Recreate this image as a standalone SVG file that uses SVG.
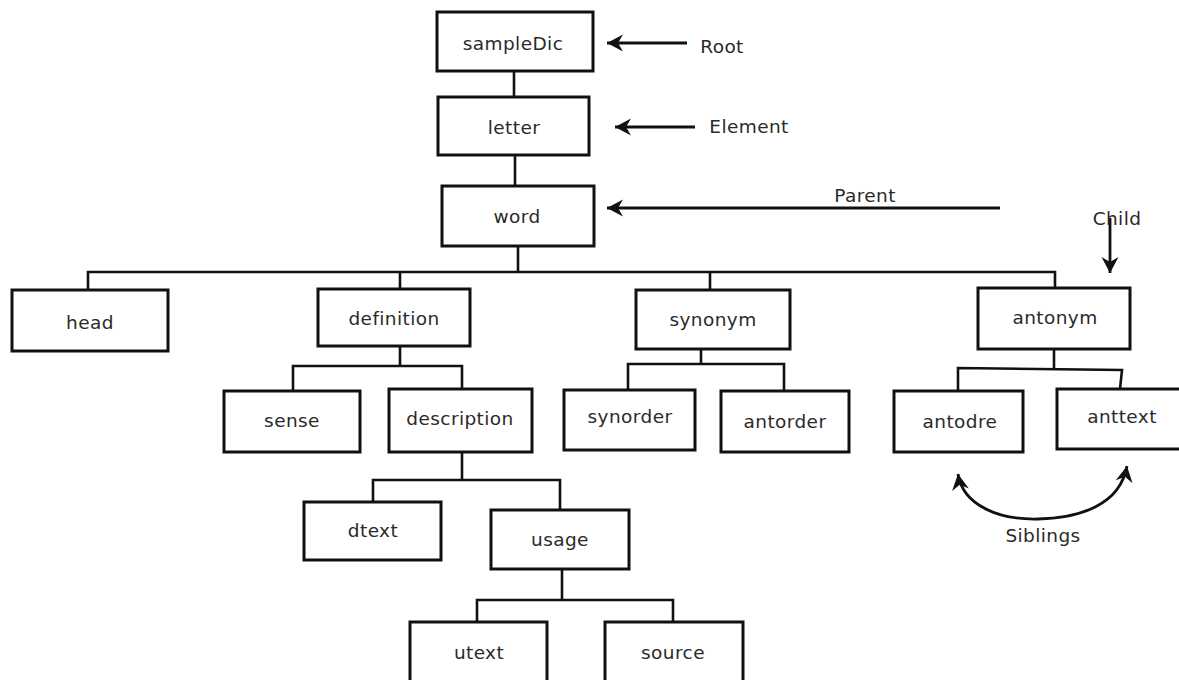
<svg xmlns="http://www.w3.org/2000/svg" width="1179" height="680" viewBox="0 0 1179 680">
<style>
.box{fill:#fff;stroke:#111;stroke-width:3}
.t{font-family:"DejaVu Sans",sans-serif;font-size:18.5px;letter-spacing:0.4px;fill:#2a2a2a;text-anchor:middle;dominant-baseline:central}
.c{fill:none;stroke:#111;stroke-width:2.6}
.a{fill:none;stroke:#111;stroke-width:2.8}
</style>
<defs>
<marker id="ah" viewBox="-18 -10 20 20" markerWidth="20" markerHeight="20" refX="0" refY="0" orient="auto-start-reverse" markerUnits="userSpaceOnUse">
<path d="M0 0 L-16 -8.5 L-11 0 L-16 8.5 Z" fill="#111"/>
</marker>
</defs>
<rect width="1179" height="680" fill="#fff"/>
<g id="connectors">
<path class="c" d="M514 71 V97 M515 155 V186 M518 246 V272"/>
<path class="c" d="M88 290 V272 H1055 V288 M400 272 V289 M710 272 V290"/>
<path class="c" d="M400 346 V366 M293 391 V366 H462 V389"/>
<path class="c" d="M701 349 V364 M628 390 V364 H784 V391"/>
<path class="c" d="M1054 349 V368 M958 391 V368 L1122 370 L1120 389"/>
<path class="c" d="M462 452 V480 M373 502 V480 H560 V510"/>
<path class="c" d="M562 569 V600 M477 622 V600 H673 V622"/>
<path class="a" d="M687 43 H607" marker-end="url(#ah)"/>
<path class="a" d="M695 127 H615" marker-end="url(#ah)"/>
<path class="a" d="M1000 208 H607" marker-end="url(#ah)"/>
<path class="a" d="M1110 218 V273" marker-end="url(#ah)"/>
<path class="a" d="M958 474 C963 506 1000 520 1038 519 C1080 518 1120 505 1127 466" marker-start="url(#ah)" marker-end="url(#ah)"/>
</g>
<g id="n-sampleDic"><rect class="box" x="437" y="12" width="156" height="59"/><text class="t" x="513" y="43">sampleDic</text></g>
<g id="n-letter"><rect class="box" x="438" y="97" width="151" height="58"/><text class="t" x="514" y="127">letter</text></g>
<g id="n-word"><rect class="box" x="442" y="186" width="152" height="60"/><text class="t" x="517" y="216">word</text></g>
<g id="n-head"><rect class="box" x="12" y="290" width="156" height="61"/><text class="t" x="90" y="322">head</text></g>
<g id="n-definition"><rect class="box" x="318" y="289" width="152" height="57"/><text class="t" x="394" y="318">definition</text></g>
<g id="n-synonym"><rect class="box" x="636" y="290" width="154" height="59"/><text class="t" x="713" y="319">synonym</text></g>
<g id="n-antonym"><rect class="box" x="978" y="288" width="152" height="61"/><text class="t" x="1055" y="317">antonym</text></g>
<g id="n-sense"><rect class="box" x="224" y="391" width="136" height="61"/><text class="t" x="292" y="420">sense</text></g>
<g id="n-description"><rect class="box" x="389" y="389" width="143" height="63"/><text class="t" x="460" y="418">description</text></g>
<g id="n-synorder"><rect class="box" x="564" y="390" width="131" height="60"/><text class="t" x="630" y="416">synorder</text></g>
<g id="n-antorder"><rect class="box" x="721" y="391" width="128" height="61"/><text class="t" x="785" y="421">antorder</text></g>
<g id="n-antodre"><rect class="box" x="894" y="391" width="129" height="61"/><text class="t" x="960" y="421">antodre</text></g>
<g id="n-anttext"><rect class="box" x="1057" y="389" width="130" height="60"/><text class="t" x="1122" y="416">anttext</text></g>
<g id="n-dtext"><rect class="box" x="304" y="502" width="137" height="58"/><text class="t" x="373" y="530">dtext</text></g>
<g id="n-usage"><rect class="box" x="491" y="510" width="138" height="59"/><text class="t" x="560" y="539">usage</text></g>
<g id="n-utext"><rect class="box" x="410" y="622" width="137" height="66"/><text class="t" x="479" y="652">utext</text></g>
<g id="n-source"><rect class="box" x="605" y="622" width="138" height="66"/><text class="t" x="673" y="652">source</text></g>
<g id="labels">
<text class="t" x="722" y="46">Root</text>
<text class="t" x="749" y="126">Element</text>
<text class="t" x="865" y="195">Parent</text>
<text class="t" x="1117" y="218">Child</text>
<text class="t" x="1043" y="535">Siblings</text>
</g>
</svg>
